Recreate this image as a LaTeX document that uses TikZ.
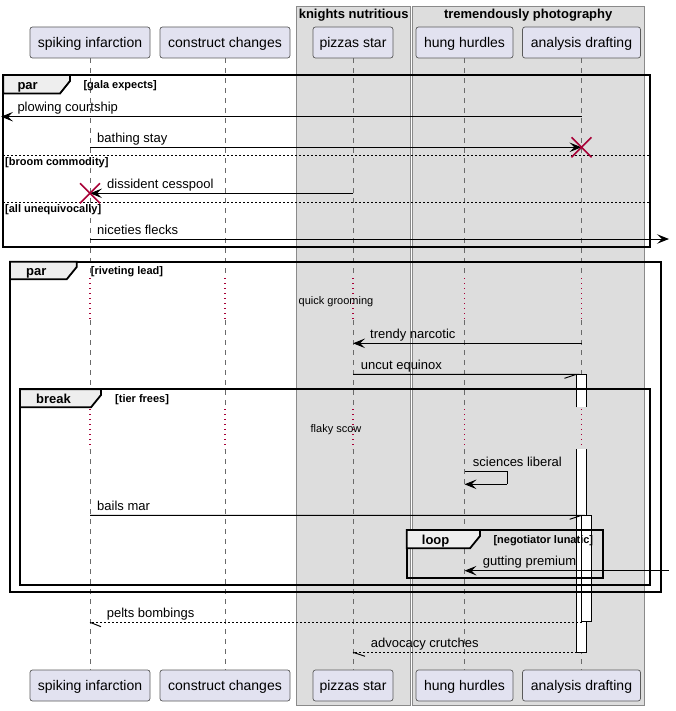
\documentclass[tikz,border=0pt]{standalone}
\usepackage{fontspec}
\setmainfont{Liberation Sans}
\usetikzlibrary{arrows.meta,calc}
\definecolor{partfill}{HTML}{E2E2F0}
\definecolor{partline}{HTML}{5A5A5A}
\definecolor{boxfill}{HTML}{DDDDDD}
\definecolor{boxline}{HTML}{8A8A8A}
\definecolor{tabfill}{HTML}{EEEEEE}
\definecolor{crimson}{HTML}{A80036}
\definecolor{lifecol}{HTML}{6A6A6A}
\begin{document}
\begin{tikzpicture}[x=1pt,y=-1pt,
  participant/.style={draw=partline, fill=partfill, line width=0.7pt, rounded corners=2.5pt,
    inner sep=0pt, minimum height=31pt, text height=11pt, text depth=1pt,
    font=\fontsize{14}{16}\selectfont},
  groupbox/.style={draw=boxline, fill=boxfill, line width=0.8pt},
  grouptitle/.style={anchor=base, inner sep=0pt, font=\fontsize{13}{15}\selectfont\bfseries},
  lifeline/.style={draw=lifecol, line width=0.6pt, dash pattern=on 5pt off 5pt},
  delayline/.style={draw=crimson, line width=1.2pt, dash pattern=on 1.2pt off 3.8pt},
  delaytext/.style={anchor=base, inner sep=0pt, font=\fontsize{11}{13}\selectfont},
  frame/.style={draw=black, line width=1.8pt},
  tab/.style={draw=black, fill=tabfill, line width=1.8pt},
  tabtext/.style={anchor=base west, inner sep=0pt, font=\fontsize{13}{15}\selectfont\bfseries},
  guard/.style={anchor=base west, inner sep=0pt, font=\fontsize{11}{13}\selectfont\bfseries},
  separator/.style={draw=black, line width=1pt, dash pattern=on 2pt off 2pt},
  msg/.style={draw=black, line width=1pt, -{Stealth[length=12pt, width=9.5pt, inset=5pt]}},
  plainmsg/.style={draw=black, line width=1pt},
  retmsg/.style={draw=black, line width=1pt, dash pattern=on 2pt off 2pt},
  lbl/.style={anchor=base west, inner sep=0pt, font=\fontsize{13}{15}\selectfont},
  destroy/.style={draw=crimson, line width=1.6pt},
  actline/.style={draw=black, line width=1pt}
]
\useasboundingbox (0,0) rectangle (675,711);

% grouping boxes
\draw[groupbox] (296.7,6) rectangle (410.7,705);
\draw[groupbox] (412.3,6) rectangle (644,705);
\node[grouptitle] (gKn) at (353.7,19) {knights nutritious};
\node[grouptitle] (gTr) at (528.2,19) {tremendously photography};

% participants, head and foot
\node[participant, minimum width=120pt] (sp) at (90,42.5) {spiking infarction};
\node[participant, minimum width=130pt] (cc) at (225,42.5) {construct changes};
\node[participant, minimum width=80pt]  (ps) at (353,42.5) {pizzas star};
\node[participant, minimum width=97pt]  (hh) at (464.5,42.5) {hung hurdles};
\node[participant, minimum width=118pt] (ad) at (581.5,42.5) {analysis drafting};
\node[participant, minimum width=120pt] (sp-b) at (90,685.5) {spiking infarction};
\node[participant, minimum width=130pt] (cc-b) at (225,685.5) {construct changes};
\node[participant, minimum width=80pt]  (ps-b) at (353,685.5) {pizzas star};
\node[participant, minimum width=97pt]  (hh-b) at (464.5,685.5) {hung hurdles};
\node[participant, minimum width=118pt] (ad-b) at (581.5,685.5) {analysis drafting};

% rows used by delays
\coordinate (d1a) at (0,278);
\coordinate (d1b) at (0,320);
\coordinate (d2a) at (0,409);
\coordinate (d2b) at (0,449);

% lifelines with the two delays
\foreach \p in {sp,cc,ps,hh,ad}{
  \draw[lifeline] (\p.south) -- (\p |- d1a);
  \draw[delayline] (\p |- d1a) -- (\p |- d1b);
  \draw[lifeline] (\p |- d1b) -- (\p |- d2a);
  \draw[delayline] (\p |- d2a) -- (\p |- d2b);
  \draw[lifeline] (\p |- d2b) -- (\p-b.north);
}

% activation bars on analysis drafting
\coordinate (actL) at (576.5,0);
\coordinate (inL) at (581.7,0);
\fill[white] (576.5,374.3) rectangle (586,407.3);
\draw[actline] (576.5,407.3) -- (576.5,374.3) -- (586,374.3) -- (586,407.3);
\fill[white] (576.5,449.3) rectangle (586,652.3);
\draw[actline] (576.5,449.3) -- (576.5,652.3) -- (586,652.3) -- (586,449.3);
\filldraw[actline, fill=white] (581.7,515.3) rectangle (591.7,621.7);

% first par fragment
\draw[frame] (3.3,75) rectangle (650,246.7);
\draw[tab] (3.3,75) -- (70,75) -- (70,81) -- (60,93.5) -- (3.3,93.5) -- cycle;
\node[tabtext] (t1) at (17.3,89.5) {par};
\node[guard] (g1) at (83.3,88.7) {[gala expects]};
\draw[separator] (3.3,155.7) -- (650,155.7);
\node[guard] (g2) at (5,166) {[broom commodity]};
\draw[separator] (3.3,202.3) -- (650,202.3);
\node[guard] (g3) at (5,212.5) {[all unequivocally]};

% second par fragment
\draw[frame] (10,261.7) rectangle (661,591.7);
\draw[tab] (10,261.7) -- (76.7,261.7) -- (76.7,267) -- (66.7,279.3) -- (10,279.3) -- cycle;
\node[tabtext] (t2) at (26,275.5) {par};
\node[guard] (g4) at (90.7,274.5) {[riveting lead]};

% break fragment
\draw[frame] (20,389.3) rectangle (650,585);
\draw[tab] (20,389.3) -- (101,389.3) -- (101,395) -- (91,407.3) -- (20,407.3) -- cycle;
\node[tabtext] (t3) at (36,403.3) {break};
\node[guard] (g5) at (115,402.5) {[tier frees]};

% loop fragment
\draw[frame] (406.7,530) rectangle (603.3,578.3);
\draw[tab] (406.7,530) -- (480,530) -- (480,536) -- (470,548.3) -- (406.7,548.3) -- cycle;
\node[tabtext] (t4) at (421.7,544.5) {loop};
\node[guard] (g6) at (493.3,543.5) {[negotiator lunatic]};

% delay texts
\node[delaytext] (dl1) at (336,304.5) {quick grooming};
\node[delaytext] (dl2) at (336,432.5) {flaky scow};

% message rows
\coordinate (edgeL) at (1,0);
\coordinate (edgeR) at (669,0);
\coordinate (r1) at (0,116.7);
\coordinate (r2) at (0,147.3);
\coordinate (r3) at (0,193.3);
\coordinate (r4) at (0,239);
\coordinate (r5) at (0,343.3);
\coordinate (r6) at (0,374.3);
\coordinate (r7) at (0,471);
\coordinate (r7b) at (0,484.3);
\coordinate (r8) at (0,515.3);
\coordinate (r9) at (0,570.7);
\coordinate (r10) at (0,622.3);
\coordinate (r11) at (0,652.3);

% messages
\draw[msg] (ad |- r1) -- (edgeL |- r1);
\node[lbl] (m1) at (17.3,111.7) {plowing courtship};

\draw[msg] (sp |- r2) -- (ad |- r2);
\node[lbl] (m2) at (97,142.3) {bathing stay};
\draw[destroy] ($(ad |- r2)+(-10,-10)$) -- ++(20,20);
\draw[destroy] ($(ad |- r2)+(-10,10)$) -- ++(20,-20);

\draw[msg] (ps |- r3) -- (sp |- r3);
\node[lbl] (m3) at (107,188.3) {dissident cesspool};
\draw[destroy] ($(sp |- r3)+(-10,-10)$) -- ++(20,20);
\draw[destroy] ($(sp |- r3)+(-10,10)$) -- ++(20,-20);

\draw[msg] (sp |- r4) -- (edgeR |- r4);
\node[lbl] (m4) at (97,234) {niceties flecks};

\draw[msg] (ad |- r5) -- (ps |- r5);
\node[lbl] (m5) at (370,338.3) {trendy narcotic};

\draw[plainmsg] (ps |- r6) -- (actL |- r6) -- ++(-12,4);
\node[lbl] (m6) at (360.7,369.3) {uncut equinox};

\draw[plainmsg] (hh |- r7) -- ++(42.7,0) -- ++(0,13.3);
\draw[msg] ($(hh |- r7b)+(42.7,0)$) -- (hh |- r7b);
\node[lbl] (m7) at (472.7,466.5) {sciences liberal};

\draw[plainmsg] (sp |- r8) -- (inL |- r8) -- ++(-12,4);
\node[lbl] (m8) at (97,510.3) {bails mar};

\draw[msg] (edgeR |- r9) -- (hh |- r9);
\node[lbl] (m9) at (482.7,565.7) {gutting premium};

\draw[retmsg] (inL |- r10) -- (sp |- r10);
\draw[plainmsg] (sp |- r10) -- ++(11,4.4);
\node[lbl] (m10) at (106.7,617.3) {pelts bombings};

\draw[retmsg] (actL |- r11) -- (ps |- r11);
\draw[plainmsg] (ps |- r11) -- ++(12,4);
\node[lbl] (m11) at (370.7,647.3) {advocacy crutches};
\end{tikzpicture}
\end{document}
